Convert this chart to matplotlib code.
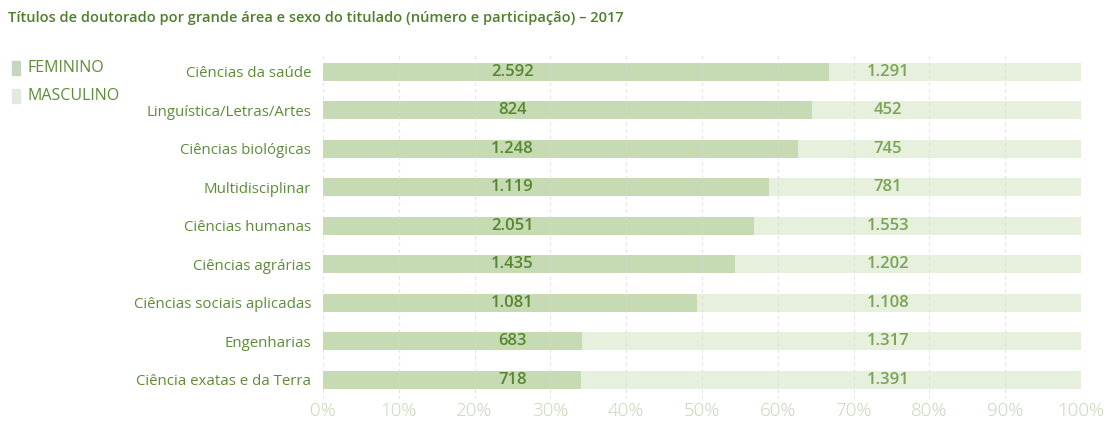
import numpy as np
import matplotlib
matplotlib.use("Agg")
import matplotlib.pyplot as plt
from matplotlib.patches import Rectangle

plt.rcParams['font.family'] = ['Open Sans', 'DejaVu Sans']

### Data

areas = ["Ciências da saúde", "Linguística/Letras/Artes", "Ciências biológicas",
         "Multidisciplinar", "Ciências humanas", "Ciências agrárias",
         "Ciências sociais aplicadas", "Engenharias", "Ciência exatas e da Terra"]
feminino = [2592, 824, 1248, 1119, 2051, 1435, 1081, 683, 718]
masculino = [1291, 452, 745, 781, 1553, 1202, 1108, 1317, 1391]
tick_labels = ["0%", "10%", "20%", "30%", "40%", "50%", "60%", "70%", "80%", "90%", "100%"]

title = "Títulos de doutorado por grande área e sexo do titulado (número e participação) – 2017"

# Colours
fem_color = "#c6dbb3"
masc_color = "#e7efdd"
dark_green = "#4f7f2c"
label_green = "#5d8d36"
tick_color = "#c4d6b6"


def fmt(n):
   # Brazilian thousands separator
   return "{:,}".format(n).replace(",", ".")


fem = np.array(feminino, dtype=float)
masc = np.array(masculino, dtype=float)
total = fem + masc
fem_share = fem / total * 100
masc_share = masc / total * 100

fig = plt.figure(figsize=(11.08, 4.24), dpi=100)
ax = fig.add_axes([0.2915, 0.059, 0.6841, 0.8166])

y = np.arange(len(areas))
bar_h = 0.47
ax.barh(y, fem_share, height=bar_h, color=fem_color, zorder=2)
ax.barh(y, masc_share, left=fem_share, height=bar_h, color=masc_color, zorder=2)

# faint dashed grid, drawn over the bars
for t in range(0, 101, 10):
   ax.axvline(t, color="#d9d9d9", lw=0.8, ls=(0, (3, 3)), alpha=0.7, zorder=3)

for i in range(len(areas)):
   ax.text(25, y[i], fmt(feminino[i]), ha="center", va="center",
           fontsize=12, fontweight="semibold", color="#55872f", zorder=4)
   ax.text(74.5, y[i], fmt(masculino[i]), ha="center", va="center",
           fontsize=12, fontweight="semibold", color="#79a455", zorder=4)

ax.set_xlim(0, 100)
ax.set_ylim(len(areas) - 0.5, -0.5)
ax.set_xticks(np.arange(0, 101, 10))
ax.set_xticklabels(tick_labels, fontsize=13.5, fontweight="light", color=tick_color)
ax.set_yticks(y)
ax.set_yticklabels(areas, fontsize=10.8, color=label_green)
ax.tick_params(axis="both", length=0)
ax.tick_params(axis="y", pad=8.5)
ax.tick_params(axis="x", pad=2)
for s in ax.spines.values():
   s.set_visible(False)

fig.text(0.007, 0.957, title, fontsize=10.5, fontweight="semibold", color=dark_green,
         ha="left", va="center")

# legend at the upper left
fig.add_artist(Rectangle((0.011, 0.822), 0.0075, 0.033, transform=fig.transFigure,
                         color="#c9d6bf"))
fig.add_artist(Rectangle((0.011, 0.756), 0.0075, 0.033, transform=fig.transFigure,
                         color="#e3e9dd"))
fig.text(0.025, 0.839, "FEMININO", fontsize=11.5, color=label_green, va="center")
fig.text(0.025, 0.773, "MASCULINO", fontsize=11.5, color=label_green, va="center")

fig.savefig("out.png", dpi=100, facecolor="white")
